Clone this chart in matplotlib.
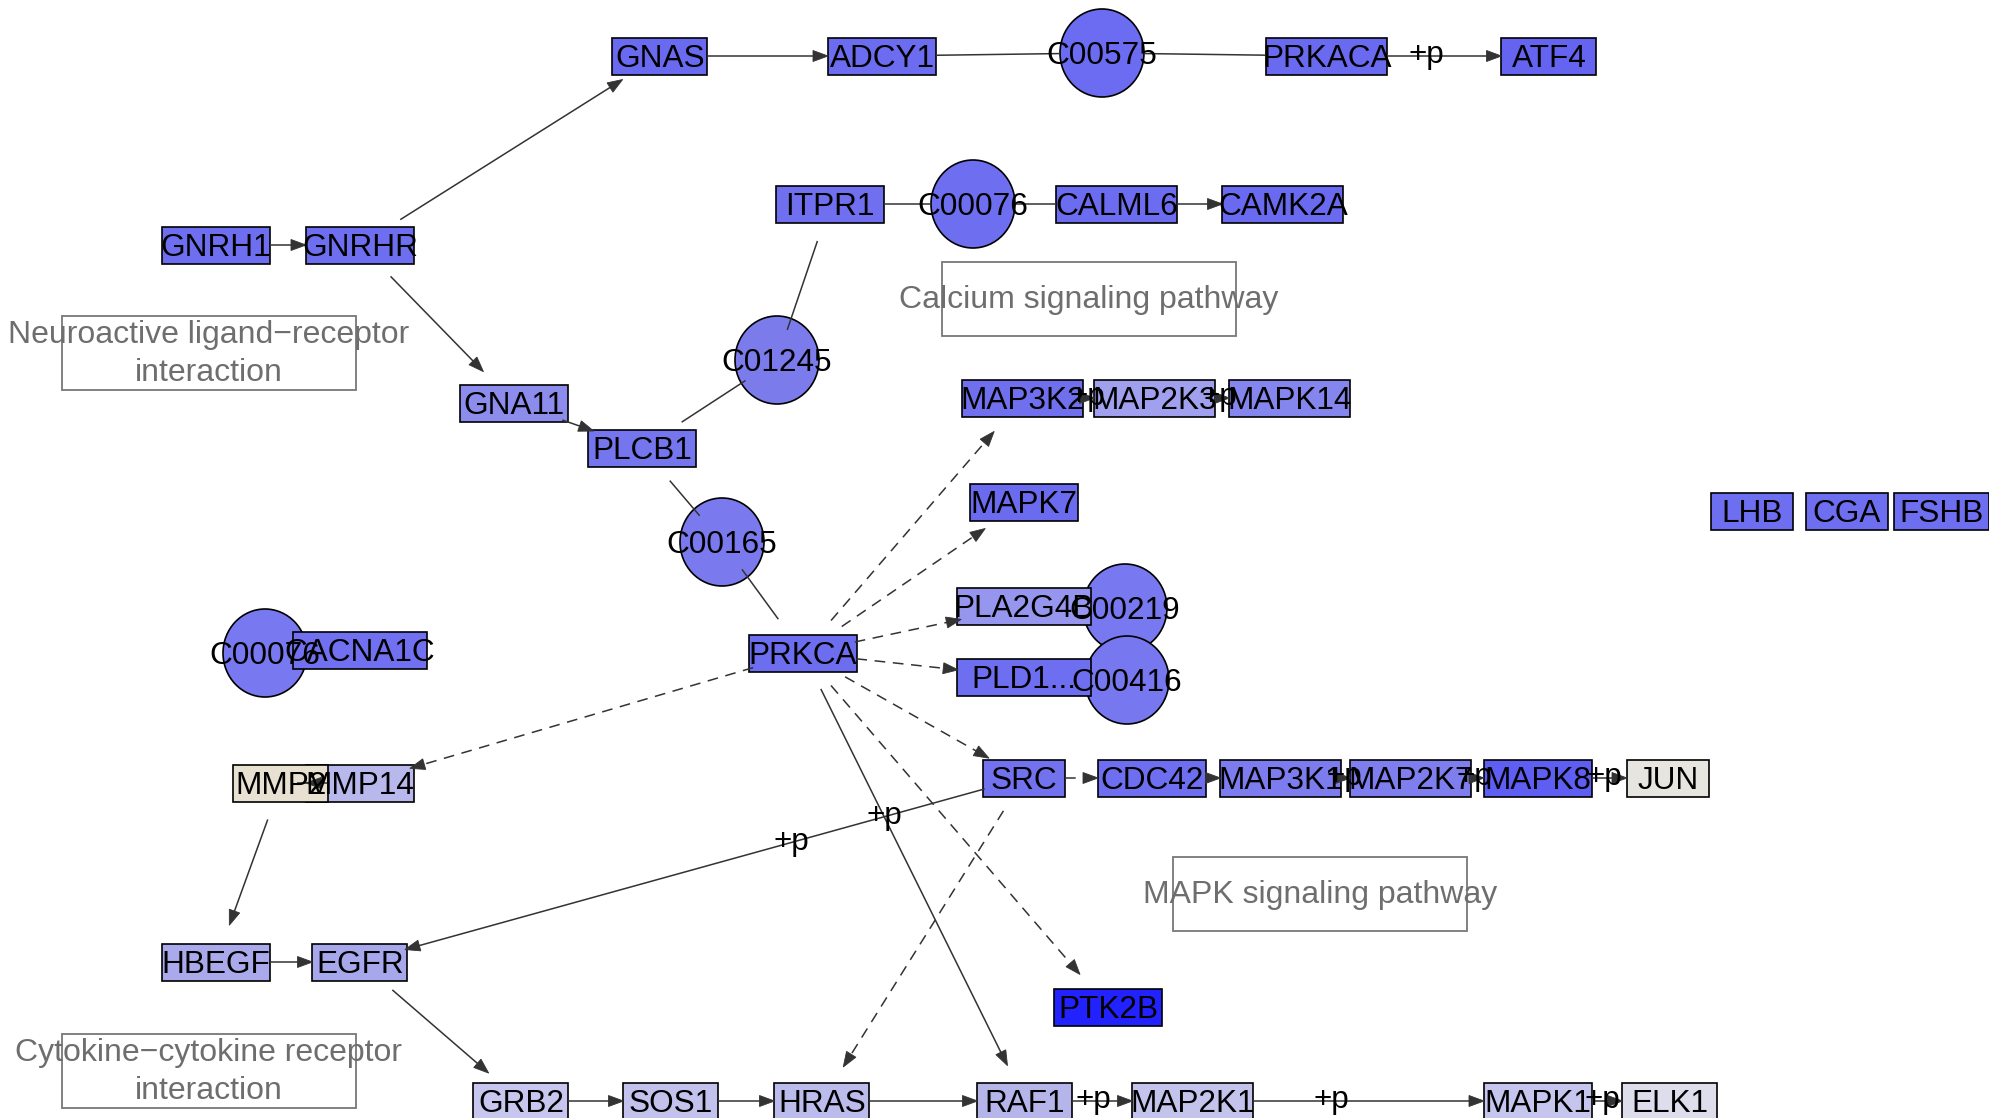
import numpy as np
import matplotlib
matplotlib.use("Agg")
import matplotlib.pyplot as plt
from matplotlib.patches import Rectangle, Ellipse, Polygon

plt.rcParams['font.family'] = ['Liberation Sans', 'DejaVu Sans']

# ---------------- data ----------------
node_ids = ["GNAS", "ADCY1", "C00575", "PRKACA", "ATF4",
            "ITPR1", "C00076a", "CALML6", "CAMK2A",
            "GNRH1", "GNRHR", "C01245", "GNA11", "PLCB1", "C00165", "PRKCA",
            "C00076b", "CACNA1C", "MMP14", "MMP2", "HBEGF", "EGFR",
            "GRB2", "SOS1", "HRAS", "RAF1", "MAP2K1", "MAPK1", "ELK1",
            "PTK2B", "SRC", "CDC42", "MAP3K1", "MAP2K7", "MAPK8", "JUN",
            "MAP3K2", "MAP2K3", "MAPK14", "MAPK7",
            "C00219", "C00416", "PLA2G4B", "PLD1",
            "LHB", "CGA", "FSHB"]
node_labels = ["GNAS", "ADCY1", "C00575", "PRKACA", "ATF4",
               "ITPR1", "C00076", "CALML6", "CAMK2A",
               "GNRH1", "GNRHR", "C01245", "GNA11", "PLCB1", "C00165", "PRKCA",
               "C00076", "CACNA1C", "MMP14", "MMP2", "HBEGF", "EGFR",
               "GRB2", "SOS1", "HRAS", "RAF1", "MAP2K1", "MAPK1", "ELK1",
               "PTK2B", "SRC", "CDC42", "MAP3K1", "MAP2K7", "MAPK8", "JUN",
               "MAP3K2", "MAP2K3", "MAPK14", "MAPK7",
               "C00219", "C00416", "PLA2G4B", "PLD1...",
               "LHB", "CGA", "FSHB"]
node_kind = ["gene", "gene", "compound", "gene", "gene",
             "gene", "compound", "gene", "gene",
             "gene", "gene", "compound", "gene", "gene", "compound", "gene",
             "compound", "gene", "gene", "gene", "gene", "gene",
             "gene", "gene", "gene", "gene", "gene", "gene", "gene",
             "gene", "gene", "gene", "gene", "gene", "gene", "gene",
             "gene", "gene", "gene", "gene",
             "compound", "compound", "gene", "gene",
             "gene", "gene", "gene"]
# layout (graph coordinates)
node_x = [660, 882, 1102, 1327, 1549,
          830, 973, 1117, 1283,
          216, 360, 777, 514, 642, 722, 803,
          265, 360, 360, 281, 216, 360,
          521, 671, 822, 1025, 1193, 1538, 1670,
          1108, 1024, 1152, 1281, 1411, 1538, 1668,
          1023, 1155, 1290, 1024,
          1125, 1127, 1024, 1024,
          1752, 1847, 1942]
node_y = [56, 56, 53, 56, 56,
          204, 204, 204, 204,
          245, 245, 360, 403, 448, 542, 653,
          653, 650, 783, 783, 962, 962,
          1101, 1101, 1101, 1101, 1101, 1101, 1101,
          1007, 778, 778, 778, 778, 778, 778,
          398, 398, 398, 502,
          608, 680, 606, 677,
          511, 511, 511]
node_color = ["#6A6AF0", "#6C6CF0", "#6C6CF2", "#6A6AF0", "#6464F0",
              "#6F6FEF", "#6E6EF0", "#6C6CF0", "#6A6AF0",
              "#6E6EF0", "#6E6EF0", "#7B7BEB", "#8C8CEC", "#7575EE", "#7A7AEE", "#6D6DF0",
              "#7878F0", "#7070F0", "#B8B8EC", "#E8E0D0", "#A9A9EC", "#A7A7EB",
              "#C6C6EE", "#C2C2EC", "#BBBBEC", "#B5B5EA", "#C3C3EC", "#C5C5EE", "#DDDDEC",
              "#2222FF", "#7272EE", "#6E6EF0", "#7C7CEE", "#7E7EEE", "#5E5EF2", "#E6E5E0",
              "#7070EE", "#A0A0EE", "#8585EE", "#6B6BF0",
              "#7878F0", "#7777F0", "#9696EE", "#6E6EF0",
              "#6E6EF0", "#6E6EF0", "#6E6EF0"]

edge_from = ["GNRH1", "GNRHR", "GNRHR", "GNAS", "ADCY1", "C00575", "PRKACA",
             "ITPR1", "C00076a", "CALML6", "C01245", "PLCB1", "GNA11",
             "PLCB1", "C00165",
             "PRKCA", "PRKCA", "PRKCA", "PRKCA", "PRKCA", "PRKCA", "PRKCA", "PRKCA",
             "SRC", "SRC", "SRC", "CDC42", "MAP3K1", "MAP2K7", "MAPK8",
             "MAP3K2", "MAP2K3", "MMP2", "MMP2", "HBEGF", "EGFR",
             "GRB2", "SOS1", "HRAS", "RAF1", "MAP2K1", "MAPK1"]
edge_to = ["GNRHR", "GNAS", "GNA11", "ADCY1", "C00575", "PRKACA", "ATF4",
           "C00076a", "CALML6", "CAMK2A", "ITPR1", "C01245", "PLCB1",
           "C00165", "PRKCA",
           "MMP14", "MAP3K2", "MAPK7", "PLA2G4B", "PLD1", "SRC", "PTK2B", "RAF1",
           "HRAS", "CDC42", "EGFR", "MAP3K1", "MAP2K7", "MAPK8", "JUN",
           "MAP2K3", "MAPK14", "MMP14", "HBEGF", "EGFR", "GRB2",
           "SOS1", "HRAS", "RAF1", "MAP2K1", "MAPK1", "ELK1"]
edge_type = ["act", "act", "act", "act", "link", "link", "act",
             "link", "link", "act", "link", "link", "act",
             "link", "link",
             "ind", "ind", "ind", "ind", "ind", "ind", "ind", "act",
             "ind", "ind", "act", "act", "act", "act", "act",
             "act", "act", "act", "act", "act", "act",
             "act", "act", "act", "act", "act", "act"]
edge_label = ["", "", "", "", "", "", "+p",
              "", "", "", "", "", "",
              "", "",
              "", "", "", "", "", "", "", "",
              "", "", "+p|+p", "", "+p", "+p", "+p",
              "+p", "+p", "", "", "", "",
              "", "", "", "+p", "+p", "+p"]
# position of the label(s) along each edge (fraction from source centre)
edge_label_pos = {6: [0.446], 25: [0.351, 0.211], 27: [0.49], 28: [0.5], 29: [0.51],
                  30: [0.49], 31: [0.48], 39: [0.405], 40: [0.40], 41: [0.49]}

group_labels = ["Neuroactive ligand\u2212receptor\ninteraction",
                "Calcium signaling pathway",
                "MAPK signaling pathway",
                "Cytokine\u2212cytokine receptor\ninteraction"]
group_x = [209, 1089, 1320, 209]
group_y = [353, 299, 894, 1071]

# ---------------- style ----------------
W_PX, H_PX, DPI = 1989, 1118, 100
FS = 31.5 * 72 / DPI          # node label font (px -> pt)
FS_G = 32 * 72 / DPI          # group label font
GENE_H = 37
COMP_W, COMP_H = 84, 88
EDGE_COL = "#333333"
EDGE_LW = 1.1
HEAD_L, HEAD_W = 15, 5.5

fig = plt.figure(figsize=(W_PX / DPI, H_PX / DPI), dpi=DPI)
ax = fig.add_axes([0, 0, 1, 1])
ax.set_xlim(0, W_PX)
ax.set_ylim(H_PX, 0)
ax.axis("off")

pos = {nid: (x, y) for nid, x, y in zip(node_ids, node_x, node_y)}
kind = dict(zip(node_ids, node_kind))
label_of = dict(zip(node_ids, node_labels))


def gene_width(lbl):
    return 13 * len(lbl) + 43


def cap_axes(nid):
    if kind[nid] == "compound":
        return 42.0, 31.0
    return gene_width(label_of[nid]) / 2.0, 38.0


# group boxes
for lbl, gx, gy in zip(group_labels, group_x, group_y):
    ax.add_patch(Rectangle((gx - 147, gy - 37), 294, 74, facecolor="none",
                           edgecolor="#777777", linewidth=1.3, zorder=1))
    ax.text(gx, gy + 1, lbl, ha="center", va="center", fontsize=FS_G,
            color="#6E6E6E", linespacing=1.32, zorder=6)

# compounds first, then genes
for nid, lbl, k, x, y, c in zip(node_ids, node_labels, node_kind, node_x, node_y, node_color):
    if k == "compound":
        ax.add_patch(Ellipse((x, y), COMP_W, COMP_H, facecolor=c, edgecolor="black",
                             linewidth=1.2, zorder=2))
for nid, lbl, k, x, y, c in zip(node_ids, node_labels, node_kind, node_x, node_y, node_color):
    if k == "gene":
        w = gene_width(lbl)
        ax.add_patch(Rectangle((x - w / 2, y - GENE_H / 2), w, GENE_H, facecolor=c,
                               edgecolor="black", linewidth=1.2, zorder=3))

# edges
for i, (a, b, t, el) in enumerate(zip(edge_from, edge_to, edge_type, edge_label)):
    xa, ya = pos[a]
    xb, yb = pos[b]
    d = np.array([xb - xa, yb - ya], dtype=float)
    L = np.hypot(*d)
    u = d / L
    aa, ba = cap_axes(a)
    ab, bb = cap_axes(b)
    ta = 1.0 / np.sqrt((u[0] / aa) ** 2 + (u[1] / ba) ** 2)
    tb = 1.0 / np.sqrt((u[0] / ab) ** 2 + (u[1] / bb) ** 2)
    p0 = np.array([xa, ya]) + u * ta
    p1 = np.array([xb, yb]) - u * tb
    ls = (0, (7, 5)) if t == "ind" else "-"
    seg_end = p1 - u * (HEAD_L * 0.6) if t != "link" else p1
    ax.plot([p0[0], seg_end[0]], [p0[1], seg_end[1]], color=EDGE_COL,
            linewidth=EDGE_LW, linestyle=ls, solid_capstyle="butt", zorder=4)
    if t != "link":
        v = p1 - p0
        vu = v / np.hypot(*v)
        perp = np.array([-vu[1], vu[0]])
        base = p1 - vu * HEAD_L
        tri = [p1, base + perp * HEAD_W, base - perp * HEAD_W]
        ax.add_patch(Polygon(tri, closed=True, facecolor=EDGE_COL,
                             edgecolor=EDGE_COL, linewidth=0.6, zorder=4))
    if el:
        for f in edge_label_pos.get(i, [0.5]):
            lx = xa + (xb - xa) * f
            ly = ya + (yb - ya) * f
            ax.text(lx, ly + 7, "+p", ha="center", va="baseline", fontsize=FS,
                    color="black", zorder=7)

# node labels
for nid, lbl, k, x, y in zip(node_ids, node_labels, node_kind, node_x, node_y):
    ax.text(x, y + 11, lbl, ha="center", va="baseline", fontsize=FS,
            color="black", zorder=8)

fig.savefig("out.png", dpi=DPI, facecolor="white")
